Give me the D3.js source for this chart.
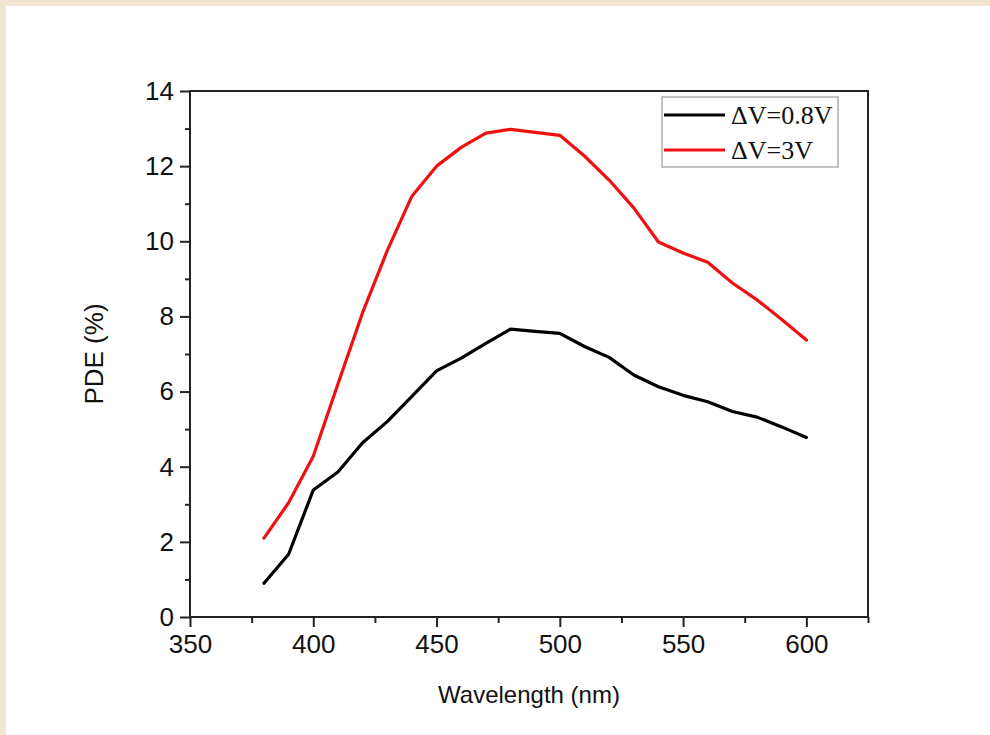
<!DOCTYPE html>
<html>
<head>
<meta charset="utf-8">
<script src="https://cdn.jsdelivr.net/npm/d3@7"></script>
<style>
  html, body { margin: 0; padding: 0; background: #f1e6d2; }
  svg { display: block; }
</style>
</head>
<body>
<svg id="chart" width="990" height="735"></svg>
<script>
// wavelengths (nm)
const wavelengths = [380, 390, 400, 410, 420, 430, 440, 450, 460, 470, 480, 490,
  500, 510, 520, 530, 540, 550, 560, 570, 580, 590, 600];
// PDE (%) at dV = 0.8 V
const pdeLow = [0.9, 1.67, 3.38, 3.86, 4.64, 5.2, 5.87, 6.55, 6.89, 7.28, 7.66, 7.6,
  7.55, 7.2, 6.91, 6.44, 6.13, 5.9, 5.73, 5.47, 5.32, 5.06, 4.78];
// PDE (%) at dV = 3 V
const pdeHigh = [2.1, 3.04, 4.28, 6.2, 8.1, 9.75, 11.2, 12.0, 12.5, 12.88, 12.98, 12.9,
  12.82, 12.27, 11.63, 10.89, 9.98, 9.69, 9.44, 8.89, 8.44, 7.92, 7.37];
const seriesNames = ["\u0394V=0.8V", "\u0394V=3V"];
const seriesColors = ["#000000", "#ee1111"];
const xTicks = [350, 400, 450, 500, 550, 600];
const yTicks = [0, 2, 4, 6, 8, 10, 12, 14];

const svg = d3.select("#chart");

// white panel on the beige page
svg.append("rect")
  .attr("x", 6).attr("y", 6)
  .attr("width", 984).attr("height", 729)
  .attr("fill", "#ffffff");

const plotL = 190, plotR = 868, plotT = 91, plotB = 617;

const x = d3.scaleLinear().domain([350, 625]).range([plotL, plotR]);
const y = d3.scaleLinear().domain([0, 14]).range([plotB, plotT]);

const axisColor = "#222";

// frame
svg.append("rect")
  .attr("x", plotL).attr("y", plotT)
  .attr("width", plotR - plotL).attr("height", plotB - plotT)
  .attr("fill", "none")
  .attr("stroke", axisColor)
  .attr("stroke-width", 2);

// X axis
svg.append("g")
  .attr("transform", "translate(0," + plotB + ")")
  .call(d3.axisBottom(x).tickValues(xTicks).tickSize(10).tickPadding(8).tickFormat(d3.format("d")))
  .call(g => g.select(".domain").remove())
  .call(g => g.selectAll("line").attr("stroke", axisColor).attr("stroke-width", 2))
  .call(g => g.selectAll("text")
    .attr("fill", "#111")
    .attr("font-family", "'Liberation Sans', Arial, sans-serif")
    .attr("font-size", "26px"));

svg.append("g")
  .attr("transform", "translate(0," + plotB + ")")
  .call(d3.axisBottom(x).tickValues(d3.range(375, 626, 50)).tickSize(6).tickFormat(""))
  .call(g => g.select(".domain").remove())
  .call(g => g.selectAll("line").attr("stroke", axisColor).attr("stroke-width", 2));

// Y axis
svg.append("g")
  .attr("transform", "translate(" + plotL + ",0)")
  .call(d3.axisLeft(y).tickValues(yTicks).tickSize(10).tickPadding(6))
  .call(g => g.select(".domain").remove())
  .call(g => g.selectAll("line").attr("stroke", axisColor).attr("stroke-width", 2))
  .call(g => g.selectAll("text")
    .attr("fill", "#111")
    .attr("font-family", "'Liberation Sans', Arial, sans-serif")
    .attr("font-size", "26px"));

svg.append("g")
  .attr("transform", "translate(" + plotL + ",0)")
  .call(d3.axisLeft(y).tickValues(d3.range(1, 14, 2)).tickSize(5).tickFormat(""))
  .call(g => g.select(".domain").remove())
  .call(g => g.selectAll("line").attr("stroke", axisColor).attr("stroke-width", 2));

// axis titles
svg.append("text")
  .attr("x", (plotL + plotR) / 2)
  .attr("y", 703)
  .attr("text-anchor", "middle")
  .attr("font-family", "'Liberation Sans', Arial, sans-serif")
  .attr("font-size", "24px")
  .attr("fill", "#111")
  .text("Wavelength (nm)");

svg.append("text")
  .attr("transform", "translate(103," + (plotT + plotB) / 2 + ") rotate(-90)")
  .attr("text-anchor", "middle")
  .attr("font-family", "'Liberation Sans', Arial, sans-serif")
  .attr("font-size", "26px")
  .attr("fill", "#111")
  .text("PDE (%)");

// lines
const line = d3.line()
  .x(d => x(d[0]))
  .y(d => y(d[1]));

[pdeLow, pdeHigh].forEach((vals, i) => {
  svg.append("path")
    .datum(wavelengths.map((w, j) => [w, vals[j]]))
    .attr("d", line)
    .attr("fill", "none")
    .attr("stroke", seriesColors[i])
    .attr("stroke-width", 3.2)
    .attr("stroke-linejoin", "round")
    .attr("stroke-linecap", "round");
});

// legend
const legend = svg.append("g");
legend.append("rect")
  .attr("x", 662).attr("y", 97)
  .attr("width", 176).attr("height", 70)
  .attr("fill", "#fff")
  .attr("stroke", "#999")
  .attr("stroke-width", 1.2);

seriesNames.forEach((name, i) => {
  const ly = 115 + i * 35;
  legend.append("line")
    .attr("x1", 664).attr("x2", 725)
    .attr("y1", ly).attr("y2", ly)
    .attr("stroke", seriesColors[i])
    .attr("stroke-width", 3.2);
  legend.append("text")
    .attr("x", 731).attr("y", ly + 9)
    .attr("font-family", "'Liberation Serif', 'Times New Roman', serif")
    .attr("font-size", "26px")
    .attr("fill", "#111")
    .text(name);
});
</script>
</body>
</html>
